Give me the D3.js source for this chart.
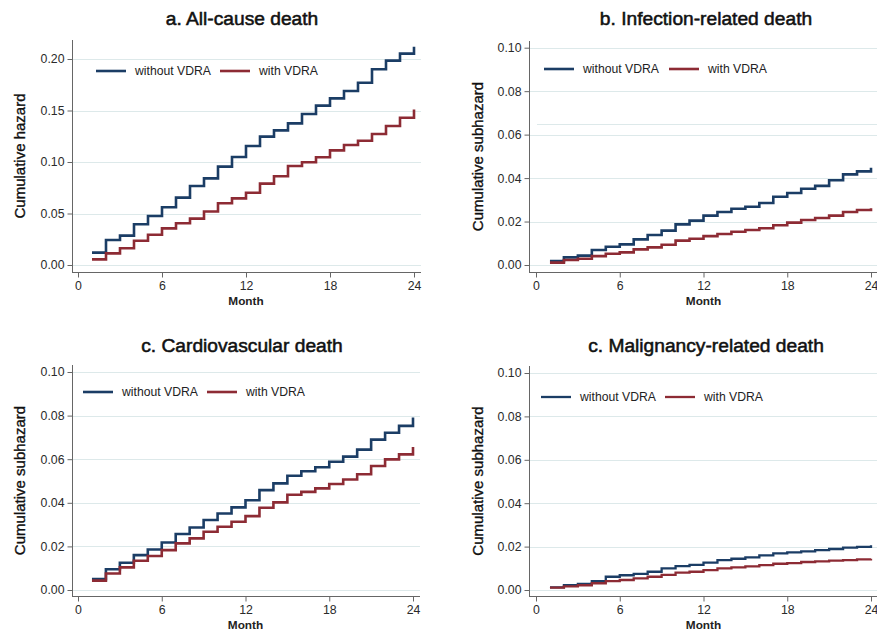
<!DOCTYPE html>
<html><head><meta charset="utf-8">
<script src="https://cdn.jsdelivr.net/npm/d3@7"></script>
<style>body{margin:0;background:#fff}svg{display:block}text{font-family:"Liberation Sans",Arial,sans-serif}</style>
</head><body>
<svg id="c" width="877" height="631"></svg>
<script>
const months = [1,2,3,4,5,6,7,8,9,10,11,12,13,14,15,16,17,18,19,20,21,22,23,24];
const xTicks = [0,6,12,18,24];
const seriesNames = ["without VDRA","with VDRA"];
const titles = ["a. All-cause death","b. Infection-related death","c. Cardiovascular death","c. Malignancy-related death"];
const yLabels = ["Cumulative hazard","Cumulative subhazard","Cumulative subhazard","Cumulative subhazard"];
const yTicksA = [0,0.05,0.10,0.15,0.20];
const yTicksBCD = [0,0.02,0.04,0.06,0.08,0.10];

const allWithout = [0.012,0.0243,0.0285,0.0395,0.0476,0.056,0.0654,0.0767,0.0841,0.0955,0.1049,0.1155,0.1246,0.1307,0.1375,0.1466,0.1547,0.1618,0.1689,0.177,0.19,0.1984,0.2052,0.212];
const allWith = [0.0055,0.0113,0.0162,0.0236,0.0294,0.0356,0.0405,0.045,0.052,0.0599,0.0647,0.0702,0.079,0.0861,0.0961,0.0997,0.1046,0.1113,0.1165,0.1207,0.1272,0.135,0.143,0.151];
const infWithout = [0.0018,0.0035,0.0043,0.0069,0.0084,0.0095,0.0118,0.0138,0.0158,0.0187,0.0204,0.0227,0.0244,0.0259,0.0268,0.0285,0.0314,0.0331,0.0351,0.0364,0.039,0.0417,0.0431,0.0448];
const infWith = [0.0011,0.0023,0.0029,0.0041,0.0052,0.0058,0.0072,0.0081,0.0093,0.0112,0.0121,0.0133,0.0143,0.0153,0.0161,0.0169,0.0183,0.0195,0.0207,0.0216,0.0227,0.0244,0.0253,0.0261];
const cvWithout = [0.005,0.0095,0.0125,0.016,0.0186,0.0218,0.0257,0.0287,0.0321,0.0351,0.0379,0.0412,0.0458,0.0489,0.0524,0.0545,0.0563,0.0588,0.0612,0.0644,0.069,0.0721,0.0753,0.0791];
const cvWith = [0.0043,0.0076,0.0104,0.0134,0.0156,0.0183,0.0214,0.0237,0.0267,0.029,0.0313,0.0339,0.0377,0.0402,0.0437,0.045,0.0466,0.0486,0.0507,0.0531,0.0569,0.0599,0.0622,0.0656];
const malWithout = [0.0012,0.0022,0.0028,0.0041,0.0061,0.0068,0.0074,0.0084,0.01,0.011,0.0116,0.0126,0.0138,0.0144,0.015,0.016,0.0169,0.0173,0.0178,0.0184,0.0189,0.0195,0.0199,0.0206];
const malWith = [0.0011,0.0017,0.0022,0.0031,0.0041,0.0046,0.0054,0.0061,0.007,0.008,0.0084,0.0092,0.01,0.0104,0.0109,0.0115,0.0121,0.0124,0.0129,0.0132,0.0135,0.0138,0.0141,0.0144];

const colors = ["#1b3d65","#8d2b34"];
const svg = d3.select("#c");

const panels = [
  {title:titles[0], ylab:yLabels[0], ticks:yTicksA, ymax:0.20, data:[allWithout,allWith],
   ax:72, x0:78, x24:414, right:421, top:40, bottom:272, py0:265, pymax:59, tx:242, ty:25, ylx:20,
   leg:{x:96,y:71,x2:220}, lw:2.6},
  {title:titles[1], ylab:yLabels[1], ticks:yTicksBCD, ymax:0.10, data:[infWithout,infWith],
   ax:529, x0:536, x24:871, right:877, top:41, bottom:272, py0:265, pymax:47.7, tx:706, ty:25, ylx:478,
   leg:{x:544,y:69,x2:669}, lw:2.6, artifact:0.0649},
  {title:titles[2], ylab:yLabels[2], ticks:yTicksBCD, ymax:0.10, data:[cvWithout,cvWith],
   ax:72, x0:78, x24:413, right:420, top:365, bottom:596, py0:590, pymax:372, tx:242, ty:352, ylx:20,
   leg:{x:83,y:392,x2:207}, lw:2.6},
  {title:titles[3], ylab:yLabels[3], ticks:yTicksBCD, ymax:0.10, data:[malWithout,malWith],
   ax:529, x0:536, x24:871, right:877, top:366, bottom:596, py0:590, pymax:373, tx:706, ty:352, ylx:478,
   leg:{x:541,y:397,x2:665}, lw:2.3}
];

panels.forEach(p => {
  const g = svg.append("g");
  const x = d3.scaleLinear().domain([0,24]).range([p.x0,p.x24]);
  const y = d3.scaleLinear().domain([0,p.ymax]).range([p.py0,p.pymax]);

  // gridlines
  g.selectAll(".grid").data(p.ticks).join("line")
    .attr("x1",p.ax+1).attr("x2",p.right).attr("y1",d=>Math.round(y(d))+0.5).attr("y2",d=>Math.round(y(d))+0.5)
    .attr("stroke","#dde9ea").attr("stroke-width",1);
  if (p.artifact) {
    g.append("line").attr("x1",p.x0+1).attr("x2",p.right)
      .attr("y1",Math.round(y(p.artifact))+0.5).attr("y2",Math.round(y(p.artifact))+0.5)
      .attr("stroke","#dde9ea").attr("stroke-width",1);
  }

  // y axis
  const yAxis = d3.axisLeft(y).tickValues(p.ticks).tickFormat(d3.format(".2f")).tickSize(5).tickPadding(3);
  const ya = g.append("g").attr("transform",`translate(${p.ax+0.5},0)`).call(yAxis);
  ya.select(".domain").attr("d",`M0,${p.top}V${p.bottom}`).attr("stroke","#666");
  ya.selectAll(".tick line").attr("stroke","#666");
  ya.selectAll(".tick text").attr("font-size",12.3).attr("fill","#2a2a2a").attr("font-family","Liberation Sans, Arial, sans-serif");

  // x axis
  const xAxis = d3.axisBottom(x).tickValues(xTicks).tickSize(5).tickPadding(4);
  const xa = g.append("g").attr("transform",`translate(0,${p.bottom+0.5})`).call(xAxis);
  xa.select(".domain").attr("d",`M${p.ax},0H${p.right}`).attr("stroke","#666");
  xa.selectAll(".tick line").attr("stroke","#666");
  xa.selectAll(".tick text").attr("font-size",12.3).attr("fill","#2a2a2a").attr("font-family","Liberation Sans, Arial, sans-serif");

  // labels
  g.append("text").attr("x",(p.x0+p.x24)/2).attr("y",p.bottom+33).attr("text-anchor","middle")
    .attr("font-size",11.8).attr("font-weight","bold").attr("fill","#222").text("Month");
  g.append("text").attr("transform",`translate(${p.ylx+5},${(p.top+p.bottom)/2}) rotate(-90)`)
    .attr("text-anchor","middle").attr("font-size",15).attr("fill","#111")
    .attr("stroke","#111").attr("stroke-width",0.35).text(p.ylab);
  g.append("text").attr("x",p.tx).attr("y",p.ty).attr("text-anchor","middle")
    .attr("font-size",19.2).attr("fill","#111").attr("stroke","#111").attr("stroke-width",0.55).text(p.title);

  // step curves
  const line = d3.line().x((d,i)=>x(months[i])).y(d=>y(d)).curve(d3.curveStepAfter);
  p.data.forEach((s,k) => {
    g.append("path").attr("d",line(s)).attr("fill","none")
      .attr("stroke",colors[k]).attr("stroke-width",p.lw).attr("stroke-linejoin","miter");
  });

  // legend
  const lx = [p.leg.x, p.leg.x2];
  seriesNames.forEach((n,k) => {
    g.append("line").attr("x1",lx[k]).attr("x2",lx[k]+30).attr("y1",p.leg.y).attr("y2",p.leg.y)
      .attr("stroke",colors[k]).attr("stroke-width",p.lw);
    g.append("text").attr("x",lx[k]+39).attr("y",p.leg.y+4.3).attr("font-size",12.2).attr("fill","#222").text(n);
  });
});
</script>
</body></html>
